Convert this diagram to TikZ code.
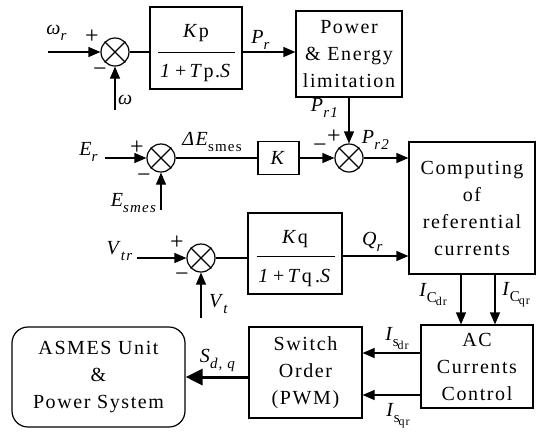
\documentclass[tikz,border=0pt]{standalone}
\usepackage{fontspec}
\setmainfont{Liberation Serif}[LetterSpace=8]
\usetikzlibrary{arrows.meta}
\newcommand\sbs[1]{\kern-1.5pt\raisebox{-0.3em}{\fontsize{15}{15}\selectfont #1}}
\newcommand\ssbs[1]{\kern-1pt\raisebox{-0.2em}{\fontsize{12}{12}\selectfont #1}}
\begin{document}
\begin{tikzpicture}[x=1pt,y=-1pt,line width=1.2pt,
  >={Triangle[length=12pt,width=10pt]},
  every node/.style={font=\fontsize{20}{27}\selectfont,inner sep=0pt},
  blk/.style={draw,rectangle,align=center},
  sumj/.style={draw,circle,minimum size=28pt},
  sgn/.style={font=\fontsize{24}{24}\selectfont},
  fracrule/.style={line width=1pt},
  thick arrow/.style={line width=3pt,-{Triangle[length=17pt,width=16pt]}}]
\useasboundingbox (0,0) rectangle (536,432);

% ---------- row 1 ----------
\node[sumj] (s1) at (115,52) {};
\draw (s1.north west) -- (s1.south east) (s1.north east) -- (s1.south west);
\node[blk,minimum width=92pt,minimum height=82pt] (kp) at (196,48) {};
\node[anchor=base] (kpn) at (196,37) {\textit{K}p};
\node[anchor=base] (kpd) at (196,77) {\textit{1}\,+\,\textit{T}p.\textit{S}};
\draw[fracrule] (158,52.5) -- (235,52.5);
\node[blk,minimum width=106pt,minimum height=86pt] (pl) at (349,54) {Power\\\&~Energy\\limitation};

\coordinate (wr) at (48,52);
\coordinate (w) at (115,110);
\draw[->] (wr) -- (s1.west);
\draw[->] (w) -- (s1.south);
\draw (s1.east) -- (s1.east -| kp.west);
\draw[->] (kp.east |- s1.east) -- (s1.east -| pl.west);

\node (lwr) at (57,33) {\textit{ω}\sbs{\textit{r}}};
\node (lw) at (126,100) {\textit{ω}};
\node[sgn] (p1) at (92,37) {+};
\node[sgn] (m1) at (100,72) {−};
\node (lpr) at (261,40) {\textit{P}\sbs{\textit{r}}};

% ---------- row 2 ----------
\node[sumj] (s3) at (161,158) {};
\draw (s3.north west) -- (s3.south east) (s3.north east) -- (s3.south west);
\node[blk,minimum width=41pt,minimum height=33pt] (kb) at (278.5,158) {\textit{K}};
\node[sumj] (s2) at (349,158) {};
\draw (s2.north west) -- (s2.south east) (s2.north east) -- (s2.south west);
\node[blk,minimum width=126pt,minimum height=132pt] (comp) at (472,208) {Computing\\of\\referential\\currents};

\coordinate (er) at (105,158);
\coordinate (es) at (161,210);
\draw[->] (er) -- (s3.west);
\draw[->] (es) -- (s3.south);
\draw (s3.east) -- (kb.west);
\draw[->] (kb.east) -- (s2.west);
\draw[->] (pl.south) -- (s2.north);
\draw[->] (s2.east) -- (s2.east -| comp.west);

\node (ler) at (89,152) {\textit{E}\sbs{\textit{r}}};
\node (lesm) at (134,203) {\textit{E}\sbs{\textit{smes}}};
\node (lde) at (212,142) {\textit{ΔE}\sbs{smes}};
\node[sgn] (p3) at (137,148) {+};
\node[sgn] (m3) at (144,178) {−};
\node[sgn] (p2) at (334,137) {+};
\node[sgn] (m2) at (320,148) {−};
\node (lpr1) at (325,108) {\textit{P}\sbs{\textit{r1}}};
\node (lpr2) at (376,140) {\textit{P}\sbs{\textit{r2}}};

% ---------- row 3 ----------
\node[sumj] (s4) at (201,258) {};
\draw (s4.north west) -- (s4.south east) (s4.north east) -- (s4.south west);
\node[blk,minimum width=94pt,minimum height=81pt] (kq) at (295,253.5) {};
\node[anchor=base] (kqn) at (295,243) {\textit{K}q};
\node[anchor=base] (kqd) at (295,282) {\textit{1}\,+\,\textit{T}q\,.\textit{S}};
\draw[fracrule] (257,256) -- (335,256);

\coordinate (vtr) at (137,258);
\coordinate (vt) at (201,318);
\draw[->] (vtr) -- (s4.west);
\draw[->] (vt) -- (s4.south);
\draw (s4.east) -- (s4.east -| kq.west);
\draw[->] ([yshift=-2.5pt]kq.east) -- ([yshift=-2.5pt]kq.east -| comp.west);

\node (lvtr) at (120,251) {\textit{V}\sbs{\textit{tr}}};
\node (lvt) at (219,304) {\textit{V}\sbs{\textit{t}}};
\node (lqr) at (373,242) {\textit{Q}\sbs{\textit{r}}};
\node[sgn] (p4) at (177,243) {+};
\node[sgn] (m4) at (182,277) {−};

% ---------- bottom ----------
\node[blk,minimum width=112pt,minimum height=83pt] (ac) at (477,366.5) {AC\\Currents\\Control};
\node[blk,minimum width=113pt,minimum height=91pt] (sw) at (305.5,372.5) {Switch\\Order\\(PWM)};
\node[blk,rounded corners=16pt,minimum width=173pt,minimum height=100pt] (as) at (98.5,377) {ASMES Unit\\\&\\Power System};

\draw[->] ([xshift=-11pt]comp.south) -- ([xshift=-11pt]comp.south |- ac.north);
\draw[->] ([xshift=23pt]comp.south) -- ([xshift=23pt]comp.south |- ac.north);
\draw[->] ([yshift=13.5pt]ac.west) -- ([yshift=13.5pt]ac.west -| sw.east);
\draw[->] ([yshift=-28.5pt]ac.west) -- ([yshift=-28.5pt]ac.west -| sw.east);
\draw[thick arrow] ([yshift=-4.5pt]sw.west) -- ([yshift=-4.5pt]sw.west -| as.east);

\node (licd) at (433,295) {\textit{I}\sbs{C\ssbs{dr}}};
\node (licq) at (516,295) {\textit{I}\sbs{C\ssbs{qr}}};
\node (lisd) at (397,339) {\textit{I}\sbs{s\ssbs{dr}}};
\node (lisq) at (398,416) {\textit{I}\sbs{s\ssbs{qr}}};
\node (lsdq) at (218,360) {\textit{S}\sbs{\textit{d, q}}};
\end{tikzpicture}
\end{document}
